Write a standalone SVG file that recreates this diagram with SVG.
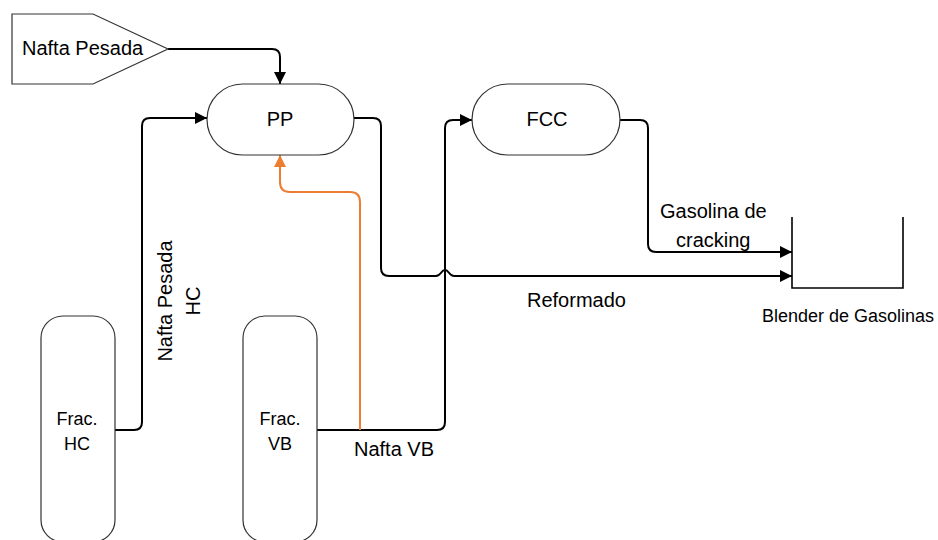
<svg xmlns="http://www.w3.org/2000/svg" width="938" height="540" viewBox="0 0 938 540">
  <style>
    .node { fill: #ffffff; stroke: #333333; stroke-width: 1.2; }
    .conn { fill: none; stroke: #000000; stroke-width: 2; }
    .orange { fill: none; stroke: #ED7D31; stroke-width: 2; }
    .lbl { font-family: "Liberation Sans", Arial, sans-serif; font-size: 20px; fill: #000000; }
    .small { font-size: 18px; }
    .mid { text-anchor: middle; }
  </style>
  <defs>
    <marker id="arr" markerUnits="userSpaceOnUse" markerWidth="12" markerHeight="12" refX="12" refY="6" orient="auto">
      <path d="M0,0 L12,6 L0,12 Z" fill="#000000"/>
    </marker>
    <marker id="arrO" markerUnits="userSpaceOnUse" markerWidth="12" markerHeight="12" refX="12" refY="6" orient="auto">
      <path d="M0,0 L12,6 L0,12 Z" fill="#ED7D31"/>
    </marker>
  </defs>
  <rect width="938" height="540" fill="#ffffff"/>

  <g id="connectors">
    <path class="conn" d="M168,49 H272 Q280,49 280,57 V84" marker-end="url(#arr)"/>
    <path class="conn" d="M115,430 H134 Q142,430 142,422 V126 Q142,118 150,118 H207" marker-end="url(#arr)"/>
    <path class="conn" d="M317,430 H437 Q445,430 445,422 V128 Q445,120 453,120 H472" marker-end="url(#arr)"/>
    <path class="conn" d="M354,118 H373 Q381,118 381,126 V268 Q381,276 389,276 H436 C441,276 441,270 445,270 C449,270 449,276 454,276 H792" marker-end="url(#arr)"/>
    <path class="conn" d="M620,120 H640 Q648,120 648,128 V244 Q648,252 656,252 H792" marker-end="url(#arr)"/>
    <path class="orange" d="M360,430 V202 Q360,192 350,192 H290 Q280,192 280,182 V155" marker-end="url(#arrO)"/>
  </g>

  <g id="nafta-pesada">
    <polygon class="node" points="12,14 93,14 168,49 93,84 12,84"/>
    <text class="lbl" x="22" y="55">Nafta Pesada</text>
  </g>

  <g id="pp">
    <rect class="node" x="207" y="84" width="147" height="71" rx="35.5" ry="35.5"/>
    <text class="lbl mid" x="280" y="126">PP</text>
  </g>

  <g id="fcc">
    <rect class="node" x="472" y="84" width="148" height="71" rx="35.5" ry="35.5"/>
    <text class="lbl mid" x="547" y="126">FCC</text>
  </g>

  <g id="frac-hc">
    <rect class="node" x="41" y="316" width="74" height="226" rx="22" ry="22"/>
    <text class="lbl small mid" x="77" y="425">Frac.</text>
    <text class="lbl small mid" x="77" y="450">HC</text>
  </g>

  <g id="frac-vb">
    <rect class="node" x="243" y="316" width="74" height="226" rx="22" ry="22"/>
    <text class="lbl small mid" x="280" y="425">Frac.</text>
    <text class="lbl small mid" x="280" y="450">VB</text>
  </g>

  <g id="blender">
    <path d="M792,217 V288 H903 V217" fill="none" stroke="#000000" stroke-width="1.6"/>
    <text class="lbl small" x="762" y="322">Blender de Gasolinas</text>
  </g>

  <g id="labels">
    <text class="lbl mid" transform="translate(172,301) rotate(-90)" x="0" y="0">Nafta Pesada</text>
    <text class="lbl mid" transform="translate(200,301) rotate(-90)" x="0" y="0">HC</text>
    <text class="lbl" x="660" y="218">Gasolina de</text>
    <text class="lbl" x="676" y="247">cracking</text>
    <text class="lbl" x="527" y="307">Reformado</text>
    <text class="lbl" x="354" y="456">Nafta VB</text>
  </g>
</svg>
